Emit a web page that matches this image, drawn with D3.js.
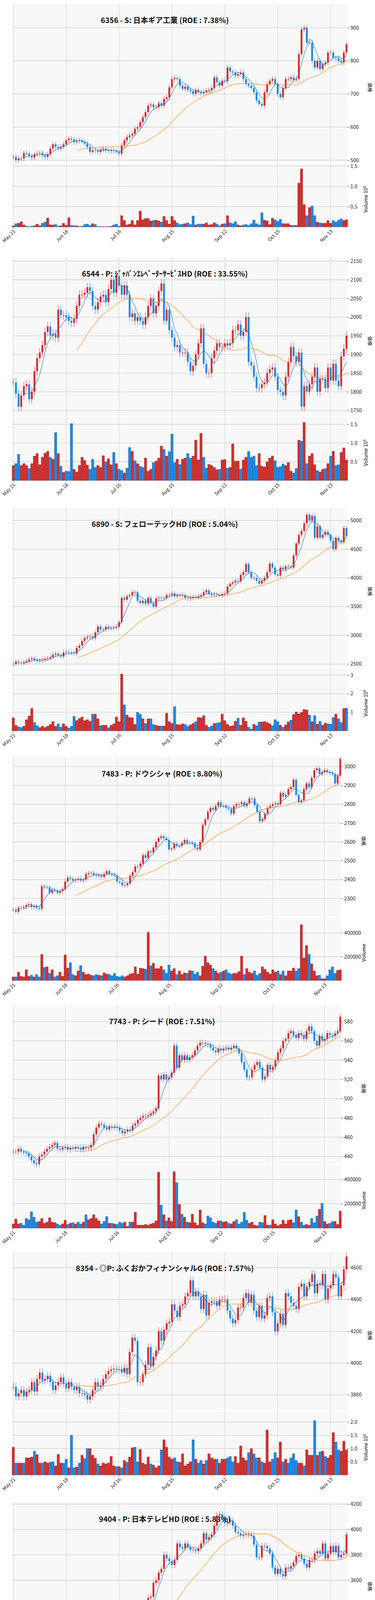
<!DOCTYPE html>
<html>
<head>
<meta charset="utf-8">
<script src="https://cdn.jsdelivr.net/npm/d3@7"></script>
<style>
  body { margin: 0; background: #fff; }
  text { font-family: "Noto Sans CJK JP", "Noto Sans", sans-serif; }
</style>
</head>
<body>
<script>
const N = 127;
const dateTickIdx = [0, 20, 40, 60, 80, 100, 120];
const dateLabels = ["May 21", "Jun 18", "Jul 16", "Aug 15", "Sep 12", "Oct 15", "Nov 13"];
const panelTops = [9, 658, 1299, 1938, 2572, 3204, 3846];

const titles = [
  "6356 - S: 日本ギア工業 (ROE : 7.38%)",
  "6544 - P: ｼﾞｬﾊﾟﾝｴﾚﾍﾞｰﾀｰｻｰﾋﾞｽHD (ROE : 33.55%)",
  "6890 - S: フェローテックHD (ROE : 5.04%)",
  "7483 - P: ドウシシャ (ROE : 8.80%)",
  "7743 - P: シード (ROE : 7.51%)",
  "8354 - ◎P: ふくおかフィナンシャルG (ROE : 7.57%)",
  "9404 - P: 日本テレビHD (ROE : 5.83%)"
];

// closes per stock
const close6356 = [
  510,500,505,505,522,520,512,508,518,520,522,515,510,518,535,548,540,535,540,548,
  560,565,562,555,558,560,555,550,540,525,530,528,525,532,535,530,528,530,528,525,
  520,545,560,570,575,580,595,600,615,630,645,665,668,660,660,672,665,685,690,720,
  745,748,745,725,715,722,712,708,700,712,705,702,705,710,712,718,750,735,725,740,
  738,780,768,765,755,760,765,745,730,725,718,705,680,670,665,705,730,740,745,730,
  700,690,718,745,745,750,742,745,820,895,900,855,855,800,780,800,775,790,795,825,
  825,810,808,800,795,825,850];
const vol6356 = [
  .03,.08,.09,.13,.05,.02,.01,.02,.03,.07,.03,.09,.12,.22,.05,.05,.06,.02,.03,.09,
  .04,.23,.04,.03,.03,.01,.02,.06,.07,.04,.08,.06,.01,.01,.01,.01,.01,.02,.05,.07,
  .02,.28,.16,.05,.07,.16,.05,.16,.39,.18,.21,.21,.15,.16,.17,.15,.12,.26,.16,.07,
  .26,.16,.10,.06,.07,.08,.10,.06,.27,.05,.07,.07,.07,.10,.05,.06,.10,.07,.03,.07,
  .08,.28,.10,.08,.13,.05,.03,.05,.06,.04,.08,.17,.08,.05,.35,.17,.15,.06,.22,.18,
  .14,.19,.08,.08,.08,.04,.04,.04,1.08,1.43,.55,.28,.48,.52,.28,.12,.10,.09,.09,.16,
  .09,.16,.12,.17,.20,.16,.18];

const close6544 = [
  1825,1795,1760,1790,1815,1820,1780,1800,1855,1890,1905,1925,1960,1975,1950,1955,1945,2020,2005,2005,
  2000,1990,1985,1995,2030,2060,2060,2065,2080,2070,2030,2020,2040,2055,2060,2040,2075,2100,2065,2110,
  2085,2060,2085,2060,2000,2010,1990,2000,1990,1980,2000,2030,2050,2010,2030,2070,2090,1990,2020,1965,
  1945,1920,1925,1905,1905,1905,1880,1855,1870,1900,1930,1970,1875,1850,1850,1890,1910,1930,1920,1920,
  1930,1925,1930,1965,1965,1980,1950,1960,2000,1880,1870,1840,1810,1810,1820,1825,1850,1860,1865,1840,
  1805,1800,1790,1840,1880,1920,1895,1880,1905,1760,1815,1800,1820,1840,1865,1800,1835,1835,1810,1865,
  1830,1875,1830,1815,1895,1915,1950];
const vol6544 = [
  .4,.45,.7,.4,.45,.4,.32,.45,.65,.72,.42,.62,.73,.78,.62,.57,1.28,.72,.38,.22,
  .25,.24,1.52,.3,.23,.4,.62,.54,.41,.3,.57,.35,.4,.35,.66,.5,.58,.42,.75,.45,
  .3,.27,.2,.33,.88,.78,.53,.45,.38,.35,.6,.25,.3,.48,.52,.6,.92,.83,.65,.77,
  1.24,.48,.57,.43,.57,.6,.72,.6,.65,1.08,.55,1.26,.62,.33,.43,.4,.35,.29,.3,.55,
  .56,.33,.35,.98,.52,.52,.31,.55,.62,.78,.62,.65,.4,.72,.38,.36,.5,.6,.65,.53,
  .35,.37,.44,.4,.48,.25,.2,.32,1.08,1.05,1.55,.45,.65,.72,.42,.27,.23,.3,.32,.45,
  .65,.78,.4,.42,.75,.87,.55];

const close6890 = [
  2500,2540,2520,2510,2530,2550,2580,2600,2570,2550,2560,2570,2590,2600,2620,2660,2680,2650,2630,2700,
  2710,2700,2690,2680,2780,2820,2900,2950,2970,2980,2950,3050,3150,3100,3100,3150,3120,3130,3140,3150,
  3230,3650,3620,3680,3700,3750,3750,3600,3560,3600,3550,3650,3560,3500,3640,3650,3640,3650,3700,3700,
  3730,3680,3700,3700,3700,3650,3640,3650,3670,3660,3680,3700,3750,3780,3720,3700,3710,3700,3690,3720,
  3730,3850,3900,3920,3950,3940,4050,4100,4240,4100,4000,4000,3950,3900,3950,4000,4100,4250,4180,4060,
  4040,4180,4150,4200,4200,4180,4390,4600,4750,4820,4950,5100,5000,5080,4700,4900,4700,4750,4800,4750,
  4650,4500,4700,4650,4620,4870,4730];
const vol6890 = [
  .7,.3,.22,.18,.25,.6,.8,1.2,.45,.28,.18,.25,.18,.25,.35,.5,.25,.38,.2,.38,
  .25,.15,.25,.78,.55,.67,.75,.55,.6,.52,.9,.9,.65,.28,.3,.3,.17,.3,.38,.75,
  .5,3.05,1.4,.85,.72,.7,.35,1.0,.9,.65,.4,.65,.65,.35,.3,.26,.26,.26,.95,.5,
  .4,1.3,.35,.32,.38,.35,.25,.32,.4,.5,.72,.7,.82,.3,.2,.26,.4,.42,.45,.9,
  .55,.35,.25,.28,.52,.68,.3,.7,.52,.2,.1,.35,.28,.48,.48,.5,.45,.38,.28,.6,
  .5,.3,.2,.32,.48,.58,.88,1.02,.92,1.0,1.15,1.12,.85,.5,.82,.36,.52,.3,.42,.38,
  .36,.72,.9,.65,.45,1.2,1.22];

const close7483 = [
  2240,2230,2250,2250,2255,2265,2270,2255,2260,2250,2245,2365,2360,2360,2330,2345,2340,2330,2340,2350,
  2390,2410,2405,2395,2400,2405,2395,2400,2430,2435,2435,2425,2420,2425,2415,2430,2445,2430,2425,2420,
  2390,2385,2370,2370,2380,2420,2440,2470,2470,2485,2530,2515,2550,2545,2570,2600,2620,2630,2620,2610,
  2560,2565,2590,2580,2580,2595,2610,2595,2595,2590,2570,2560,2600,2690,2720,2760,2780,2770,2790,2810,
  2790,2790,2780,2775,2750,2790,2800,2800,2810,2790,2805,2830,2830,2795,2760,2710,2720,2750,2780,2790,
  2800,2805,2800,2860,2840,2850,2880,2890,2930,2850,2810,2820,2880,2910,2890,2940,2980,2990,2960,2970,
  2980,2970,2965,2960,2910,2950,3040];
const vol7483 = [ // thousands of shares
  30,30,70,35,30,90,35,45,30,50,30,220,110,115,60,90,30,40,70,35,
  215,105,150,50,40,80,125,70,50,55,45,40,50,45,40,65,55,50,40,60,
  35,30,40,30,40,55,60,115,55,105,100,95,405,125,145,100,100,120,90,60,
  130,80,100,50,80,50,65,60,85,80,55,70,40,120,205,150,130,100,80,60,
  70,80,90,65,55,60,60,75,205,50,100,70,60,80,45,60,115,95,70,55,
  90,70,80,50,80,40,80,80,105,80,100,470,190,295,220,140,80,40,45,15,
  15,40,90,115,60,85,90];

const close7743 = [
  445,445,448,445,444,443,440,436,433,432,440,442,445,448,450,452,454,448,447,449,
  450,447,449,448,450,449,447,450,449,449,452,463,470,474,473,470,468,471,470,471,
  470,467,464,466,468,467,472,474,478,480,482,482,483,485,487,490,524,520,525,520,
  522,527,555,532,545,540,545,540,543,545,550,555,558,558,557,556,553,550,548,552,
  550,552,553,551,553,555,552,547,538,530,522,522,530,535,538,532,520,523,535,530,
  533,540,548,552,560,562,568,570,566,563,568,566,562,570,575,570,560,555,565,560,
  562,568,566,565,568,570,585];
const vol7743 = [ // thousands of shares
  35,75,35,40,25,80,70,135,90,50,55,80,40,50,85,50,45,35,25,35,
  65,30,40,45,35,50,35,50,110,70,80,110,80,60,35,55,95,40,40,35,
  30,50,40,50,15,50,50,130,25,25,25,30,25,35,40,60,460,190,110,60,
  85,55,465,375,195,115,90,50,45,115,45,25,150,45,35,100,85,50,40,60,
  60,50,55,40,35,55,70,35,50,130,65,40,50,25,20,50,45,105,25,25,
  70,35,20,30,65,35,65,70,45,150,95,50,25,30,25,80,45,100,155,205,
  55,35,40,55,55,30,140];

const close8354 = [
  3850,3790,3810,3830,3790,3820,3830,3880,3820,3900,3940,3890,3900,3920,3880,3830,3860,3880,3910,3870,
  3840,3880,3850,3830,3850,3810,3810,3800,3770,3790,3830,3880,3850,3860,3900,3930,3950,3960,3965,3960,
  3960,3940,3970,3930,4070,4160,4140,3880,3880,3930,3990,4100,3980,4040,4080,4200,4140,4210,4250,4260,
  4370,4330,4290,4360,4370,4420,4440,4520,4420,4450,4420,4340,4430,4300,4380,4390,4390,4360,4400,4400,
  4400,4330,4280,4250,4270,4350,4350,4410,4440,4380,4430,4330,4290,4360,4280,4300,4410,4420,4320,4200,
  4250,4310,4240,4440,4420,4380,4360,4340,4480,4500,4420,4480,4510,4560,4440,4500,4490,4560,4400,4470,
  4490,4560,4540,4420,4490,4590,4670];
const vol8354 = [
  1.05,.45,.45,.45,.45,.65,.65,.68,.9,.77,.45,.45,.5,.45,.48,.5,.35,.78,.45,.45,
  .6,.27,1.5,.27,.3,.45,.75,.62,1.0,1.0,.75,.63,.42,.35,.45,.42,.45,.7,.35,.32,
  .32,.27,.55,.48,.68,1.03,1.05,.5,.97,.45,.4,.68,.42,.38,.28,.35,.95,1.33,1.05,.68,
  .6,.65,.5,.48,.8,.35,.42,.5,1.33,.6,.45,.55,.42,.55,.8,.65,.6,.6,.45,.6,
  .6,.65,.7,.5,.7,.45,1.1,.65,.55,.85,1.0,.8,.65,.65,.5,.45,1.7,.5,.6,.85,
  .65,1.25,.5,.6,.45,.65,.8,.55,.45,.45,.35,.95,.75,.75,2.05,.75,.88,.9,.7,.65,
  .75,1.6,1.25,.95,.9,1.28,.95];

const close9404 = [
  3170,3140,3230,3275,3280,3320,3300,3270,3250,3270,3230,3230,3220,3200,3210,3195,3210,3200,3205,3270,
  3240,3310,3260,3230,3290,3270,3300,3330,3350,3320,3280,3060,3040,3030,3010,3040,3070,3040,3030,3060,
  3080,3130,3210,3280,3300,3320,3340,3240,3270,3280,3280,3460,3470,3580,3600,3660,3690,3800,3770,3750,
  3720,3760,3890,3860,3850,3890,3860,3840,3840,3830,3850,3890,3970,3920,3940,3960,4030,4110,4120,4100,
  4050,4060,4070,4030,3980,3970,3950,3960,3960,3960,3950,3880,3780,3780,3870,3870,3850,3810,3700,3650,
  3690,3650,3630,3700,3690,3710,3740,3790,3800,3770,3730,3700,3760,3760,3810,3830,3810,3890,3770,3810,
  3870,3820,3870,3780,3800,3810,3960];
const vol9404 = [
  .55,.65,.62,.43,.4,.7,.54,.6,.4,.47,.35,.5,.55,.43,.45,.48,.42,.47,.7,.55,
  .46,.55,1.12,.53,.52,.55,.45,.72,.55,.56,.56,.68,.66,.52,.82,.47,.65,.62,.45,.4,
  .38,.42,.66,.5,.62,.47,.43,.38,.36,.36,.38,1.29,.47,.6,.47,.57,.52,.65,.27,.3,
  .35,.22,.58,.32,.25,.3,.31,.29,.37,.32,.35,.37,.48,.42,.31,.4,.4,.52,.4,.5,
  .25,.38,.46,.37,.3,.27,.48,.32,.46,.6,.65,.5,.45,.42,.38,.35,.43,.45,.37,.47,
  .48,.39,.28,.22,.25,.26,.24,.37,.45,.32,.3,.3,.41,.49,.35,.41,.45,1.1,.55,.35,
  .22,.2,.22,.32,.25,.33,.47];

const priceTicks = [
  [500, 600, 700, 800, 900],
  [1750, 1800, 1850, 1900, 1950, 2000, 2050, 2100, 2150],
  [2500, 3000, 3500, 4000, 4500, 5000],
  [2300, 2400, 2500, 2600, 2700, 2800, 2900, 3000],
  [440, 460, 480, 500, 520, 540, 560, 580],
  [3800, 4000, 4200, 4400, 4600],
  [3000, 3200, 3400, 3600, 3800, 4000, 4200]
];
const volTicks = [
  [0.5, 1.0, 1.5], [0.5, 1.0, 1.5], [1, 2, 3], [200000, 400000],
  [200000, 400000], [0.5, 1.0, 1.5, 2.0], [0.5, 1.0]
];

const panels = [
  { title: titles[0], close: close6356, vol: vol6356, vMult: 1, yDom: [493, 973], wick: 8, vMax: 1.56, vFmt: d3.format(".1f"), exp: true, right: 889 },
  { title: titles[1], close: close6544, vol: vol6544, vMult: 1, yDom: [1735, 2161], wick: 12, vMax: 1.69, vFmt: d3.format(".1f"), exp: true, right: 889 },
  { title: titles[2], close: close6890, vol: vol6890, vMult: 1, yDom: [2457, 5228], wick: 40, vMax: 3.4, vFmt: d3.format("d"), exp: true, right: 889 },
  { title: titles[3], close: close7483, vol: vol7483, vMult: 1000, yDom: [2207, 3050], wick: 12, vMax: 533000, vFmt: d3.format("d"), exp: false, right: 873 },
  { title: titles[4], close: close7743, vol: vol7743, vMult: 1000, yDom: [432.5, 597.5], wick: 3, vMax: 521000, vFmt: d3.format("d"), exp: false, right: 873 },
  { title: titles[5], close: close8354, vol: vol8354, vMult: 1, yDom: [3701, 4702], wick: 25, vMax: 2.39, vFmt: d3.format(".1f"), exp: true, right: 889 },
  { title: titles[6], close: close9404, vol: vol9404, vMult: 1, yDom: [2960, 4214], wick: 25, vMax: 1.42, vFmt: d3.format(".1f"), exp: true, right: 889 }
];

const UP = "#d32f2f", DOWN = "#1e88e5";
const UP_EDGE = "#8b1f1f", DOWN_EDGE = "#135a9a";
const GRID = "#d0d0d0";

const svg = d3.select("body").append("svg")
  .attr("width", 960).attr("height", 4478)
  .style("display", "block");

function movingAvg(arr, n) {
  return arr.map((v, i) => i < n - 1 ? null : d3.mean(arr.slice(i - n + 1, i + 1)));
}

panels.forEach((p, k) => {
  const T = panelTops[k];
  const L = 32, R = p.right;
  const pt = T, pb = T + 407, vt = T + 410, vb = T + 572;
  const g = svg.append("g");

  const data = p.close.map((c, i) => {
    const o = i === 0 ? c : p.close[i - 1];
    return { i, o, c, h: Math.max(o, c) + p.wick, l: Math.min(o, c) - p.wick,
             v: p.vol[i] * p.vMult, up: c >= o };
  });

  const x = d3.scaleLinear().domain([-0.3, N - 0.7]).range([L, R]);
  const y = d3.scaleLinear().domain(p.yDom).range([pb, pt]);
  const yv = d3.scaleLinear().domain([0, p.vMax]).range([vb, vt]);
  const step = x(1) - x(0);

  // backgrounds
  g.append("rect").attr("x", L).attr("y", pt).attr("width", R - L).attr("height", pb - pt).attr("fill", "#f8f8f8");
  g.append("rect").attr("x", L).attr("y", vt).attr("width", R - L).attr("height", vb - vt).attr("fill", "#f8f8f8");

  // grid
  g.selectAll(".hg").data(priceTicks[k]).enter().append("line")
    .attr("x1", L).attr("x2", R).attr("y1", d => y(d)).attr("y2", d => y(d))
    .attr("stroke", GRID).attr("stroke-width", 1.4);
  g.selectAll(".vg").data(volTicks[k]).enter().append("line")
    .attr("x1", L).attr("x2", R).attr("y1", d => yv(d)).attr("y2", d => yv(d))
    .attr("stroke", GRID).attr("stroke-width", 1.4);
  g.selectAll(".xg").data(dateTickIdx).enter().append("line")
    .attr("x1", d => x(d)).attr("x2", d => x(d)).attr("y1", pt).attr("y2", vb)
    .attr("stroke", GRID).attr("stroke-width", 1);

  // volume bars
  g.selectAll(".vb").data(data).enter().append("rect")
    .attr("x", d => x(d.i) - step * 0.45).attr("width", step * 0.9)
    .attr("y", d => yv(d.v)).attr("height", d => vb - yv(d.v))
    .attr("fill", d => d.up ? UP : DOWN)
    .attr("stroke", d => d.up ? UP_EDGE : DOWN_EDGE).attr("stroke-width", 0.6);

  // candles
  g.selectAll(".wk").data(data).enter().append("line")
    .attr("x1", d => x(d.i)).attr("x2", d => x(d.i))
    .attr("y1", d => y(d.h)).attr("y2", d => y(d.l))
    .attr("stroke", d => d.up ? UP : DOWN).attr("stroke-width", 1);
  g.selectAll(".bd").data(data).enter().append("rect")
    .attr("x", d => x(d.i) - step * 0.35).attr("width", step * 0.7)
    .attr("y", d => y(Math.max(d.o, d.c)))
    .attr("height", d => Math.max(1.2, Math.abs(y(d.o) - y(d.c))))
    .attr("fill", d => d.up ? UP : DOWN);

  // moving averages
  const line = d3.line().defined(d => d[1] !== null).x(d => x(d[0])).y(d => y(d[1]));
  [[5, "#1f77b4"], [25, "#ff7f0e"]].forEach(([n, col]) => {
    const ma = movingAvg(p.close, n).map((v, i) => [i, v]);
    g.append("path").datum(ma).attr("d", line)
      .attr("fill", "none").attr("stroke", col).attr("stroke-width", 1.1);
  });

  // axes
  const ay = g.append("g").attr("transform", `translate(${R},0)`)
    .call(d3.axisRight(y).tickValues(priceTicks[k]).tickSize(5).tickPadding(3).tickFormat(d3.format("d")));
  const av = g.append("g").attr("transform", `translate(${R},0)`)
    .call(d3.axisRight(yv).tickValues(volTicks[k]).tickSize(5).tickPadding(3).tickFormat(p.vFmt));
  [ay, av].forEach(a => {
    a.select(".domain").remove();
    a.selectAll("text").attr("font-size", 13).attr("fill", "#222");
    a.selectAll("line").attr("stroke", "#444");
  });

  // date ticks
  g.selectAll(".dt").data(dateTickIdx).enter().append("line")
    .attr("x1", d => x(d)).attr("x2", d => x(d)).attr("y1", vb).attr("y2", vb + 4)
    .attr("stroke", "#444");
  g.selectAll(".dl").data(dateTickIdx).enter().append("text")
    .attr("transform", d => `translate(${x(d) + 6},${vb + 12}) rotate(-45)`)
    .attr("text-anchor", "end").attr("font-size", 12.5).attr("fill", "#222")
    .text((d, j) => dateLabels[j]);

  // axis labels
  g.append("text").attr("transform", `translate(${R + 53},${pt + 215}) rotate(90)`)
    .attr("text-anchor", "middle").attr("font-size", 12).text("価格");
  const vl = g.append("text")
    .attr("transform", `translate(${p.exp ? R + 52 : R + 63},${(vt + vb) / 2 + 10}) rotate(-90)`)
    .attr("text-anchor", "middle").attr("font-size", 13).text("Volume");
  if (p.exp) {
    vl.append("tspan").text("  10");
    vl.append("tspan").attr("dy", -5).attr("font-size", 9).text("6");
  }

  // title
  g.append("text").attr("x", L + (R - L) * 0.455).attr("y", pt + 50)
    .attr("text-anchor", "middle").attr("font-size", 19).attr("font-weight", "bold")
    .attr("fill", "#111").text(p.title);
});
</script>
</body>
</html>
